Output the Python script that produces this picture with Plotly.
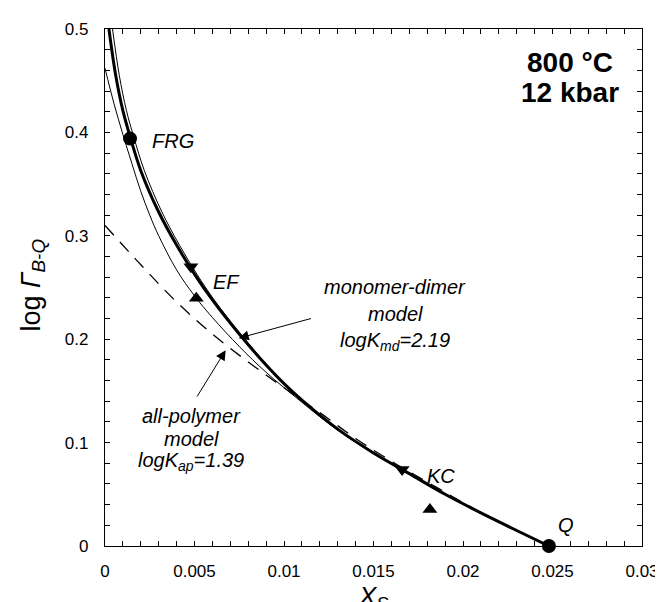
import plotly.graph_objects as go

# ---------------- data ----------------
# thick solid curve
thick_x = [0.00022, 0.0006, 0.001, 0.0014, 0.002, 0.003, 0.004, 0.005, 0.006, 0.0075,
           0.009, 0.010, 0.011, 0.013, 0.015, 0.017, 0.019, 0.021, 0.023, 0.0248]
thick_y = [0.500, 0.455, 0.421, 0.396, 0.363, 0.323, 0.291, 0.263, 0.238, 0.205,
           0.175, 0.157, 0.141, 0.113, 0.090, 0.070, 0.050, 0.032, 0.015, 0.0]

# thin solid curve, right of the thick one (monomer-dimer model)
md_x = [0.00042, 0.0008, 0.0012, 0.0016, 0.0022, 0.00318, 0.00416, 0.00513, 0.0061, 0.00758,
        0.00906, 0.01005, 0.01104, 0.01303, 0.01502, 0.01702, 0.01901, 0.02101, 0.0230, 0.0248]
md_y = [0.500, 0.455, 0.421, 0.396, 0.363, 0.323, 0.291, 0.263, 0.238, 0.205,
        0.175, 0.157, 0.141, 0.113, 0.090, 0.070, 0.050, 0.032, 0.015, 0.0]

# thin solid curve, left of the thick one
thin_x = [0.0, 0.0005, 0.001, 0.0015, 0.002, 0.0025, 0.003, 0.004, 0.005, 0.006, 0.0075,
          0.009, 0.011, 0.013, 0.015, 0.017, 0.019, 0.021, 0.023, 0.0248]
thin_y = [0.462, 0.428, 0.398, 0.370, 0.343, 0.320, 0.300, 0.267, 0.242, 0.221, 0.193,
          0.168, 0.139, 0.112, 0.0895, 0.0695, 0.0495, 0.0315, 0.0148, 0.0]

# dashed curve (all-polymer model)
ap_x = [0.0, 0.002, 0.004, 0.006, 0.008, 0.010, 0.012, 0.014, 0.016, 0.018, 0.020, 0.022, 0.0248]
ap_y = [0.310, 0.272, 0.236, 0.205, 0.178, 0.153, 0.129, 0.104, 0.082, 0.062, 0.042, 0.023, 0.0]

# experimental points
circle_x = [0.0014, 0.0248]
circle_y = [0.394, 0.0]
down_x = [0.0048, 0.0166]
down_y = [0.270, 0.074]
up_x = [0.0051, 0.01815]
up_y = [0.2395, 0.0353]

x_ticks = [0, 0.005, 0.01, 0.015, 0.02, 0.025, 0.03]
x_tick_text = ["0", "0.005", "0.01", "0.015", "0.02", "0.025", "0.03"]
y_ticks = [0, 0.1, 0.2, 0.3, 0.4, 0.5]
y_tick_text = ["0", "0.1", "0.2", "0.3", "0.4", "0.5"]

FONT = "Liberation Sans, Arial, sans-serif"

fig = go.Figure()
fig.add_trace(go.Scatter(x=ap_x, y=ap_y, mode="lines", line_shape="spline",
                         line=dict(color="black", width=1.3, dash="13px,9px"),
                         showlegend=False, hoverinfo="skip"))
fig.add_trace(go.Scatter(x=thin_x, y=thin_y, mode="lines", line_shape="spline",
                         line=dict(color="black", width=1),
                         showlegend=False, hoverinfo="skip"))
fig.add_trace(go.Scatter(x=md_x, y=md_y, mode="lines", line_shape="spline",
                         line=dict(color="black", width=1),
                         showlegend=False, hoverinfo="skip"))
fig.add_trace(go.Scatter(x=thick_x, y=thick_y, mode="lines", line_shape="spline",
                         line=dict(color="black", width=3),
                         showlegend=False, hoverinfo="skip"))
fig.add_trace(go.Scatter(x=circle_x, y=circle_y, mode="markers", cliponaxis=False,
                         marker=dict(symbol="circle", size=14, color="black"),
                         showlegend=False))
fig.add_trace(go.Scatter(x=down_x, y=down_y, mode="markers", cliponaxis=False,
                         marker=dict(symbol="triangle-down", size=13, color="black"),
                         showlegend=False))
fig.add_trace(go.Scatter(x=up_x, y=up_y, mode="markers", cliponaxis=False,
                         marker=dict(symbol="triangle-up", size=13, color="black"),
                         showlegend=False))

axis_common = dict(showgrid=False, zeroline=False, showline=True, linecolor="black",
                   linewidth=1.3, mirror="allticks", ticks="inside", ticklen=5,
                   tickwidth=1, tickcolor="black",
                   tickfont=dict(family=FONT, size=17, color="black"))

fig.update_xaxes(range=[0, 0.03], tickvals=x_ticks, ticktext=x_tick_text,
                 minor=dict(dtick=0.001, ticks="inside", ticklen=5, tickcolor="black"),
                 ticklabelstandoff=9, **axis_common)
fig.update_yaxes(range=[0, 0.5], tickvals=y_ticks, ticktext=y_tick_text,
                 minor=dict(dtick=0.02, ticks="inside", ticklen=5, tickcolor="black"),
                 ticklabelstandoff=12, **axis_common)

ann = []
def label(x, y, text, xanchor="left", size=20, italic=True):
    ann.append(dict(x=x, y=y, xref="x", yref="y", text=(f"<i>{text}</i>" if italic else text),
                    showarrow=False, xanchor=xanchor, yanchor="middle",
                    font=dict(family=FONT, size=size, color="black")))

label(0.0025, 0.392, "FRG")
label(0.0059, 0.2556, "EF")
label(0.0179, 0.0675, "KC")
label(0.0252, 0.0203, "Q")

label(0.01622, 0.2502, "monomer-dimer", xanchor="center")
label(0.01622, 0.2242, "model", xanchor="center")
label(0.01622, 0.1982, "logK<sub>md</sub>=2.19", xanchor="center")

label(0.00482, 0.1257, "all-polymer", xanchor="center")
label(0.00482, 0.1035, "model", xanchor="center")
label(0.00482, 0.0813, "logK<sub>ap</sub>=1.39", xanchor="center")

label(0.026, 0.468, "<b>800 °C</b>", xanchor="center", size=28, italic=False)
label(0.026, 0.439, "<b>12 kbar</b>", xanchor="center", size=28, italic=False)

# arrows
ann.append(dict(x=0.00747, y=0.201, ax=0.01159, ay=0.2204, xref="x", yref="y",
                axref="x", ayref="y", text="", showarrow=True, arrowhead=2,
                arrowsize=2, arrowwidth=1, arrowcolor="black", standoff=0))
ann.append(dict(x=0.00674, y=0.1894, ax=0.00509, ay=0.143, xref="x", yref="y",
                axref="x", ayref="y", text="", showarrow=True, arrowhead=2,
                arrowsize=2, arrowwidth=1, arrowcolor="black", standoff=0))

# axis titles
ann.append(dict(x=0, y=0.504, xref="paper", yref="paper", xshift=-72,
                text="log <i>Γ</i><sub><i>B-Q</i></sub>", textangle=-90,
                showarrow=False, xanchor="center", yanchor="middle",
                font=dict(family=FONT, size=27, color="black")))
ann.append(dict(x=0.4995, y=0, xref="paper", yref="paper", yshift=-33,
                text="<i>X</i><sub><i>S</i></sub>",
                showarrow=False, xanchor="center", yanchor="top",
                font=dict(family=FONT, size=26, color="black")))

fig.update_layout(width=663, height=602, margin=dict(l=97, r=20, t=20, b=64),
                  paper_bgcolor="white", plot_bgcolor="white",
                  annotations=ann, showlegend=False,
                  font=dict(family=FONT, color="black"))

fig.write_html("out.html")
